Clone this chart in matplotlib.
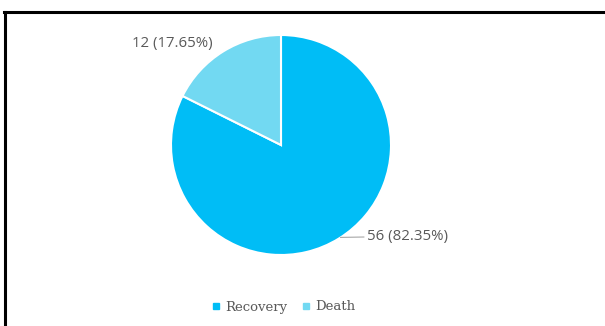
import matplotlib

matplotlib.use("Agg")
import matplotlib.pyplot as plt
from matplotlib.lines import Line2D

labels = ["Recovery", "Death"]
values = [56, 12]
colors = ["#00bdf6", "#72d9f2"]

W, H = 605, 326
fig = plt.figure(figsize=(W / 100, H / 100), dpi=100)
fig.patch.set_facecolor("white")

# pie centre (281, 145) px from top-left, radius 110 px
cx, cy, r = 281, 145, 110
ax = fig.add_axes([(cx - r) / W, (H - cy - r) / H, 2 * r / W, 2 * r / H])
ax.pie(values, colors=colors, startangle=90, counterclock=False,
       wedgeprops=dict(edgecolor="white", linewidth=1.5), radius=1)
ax.set_xlim(-1, 1)
ax.set_ylim(-1, 1)
ax.set_aspect("equal")
ax.axis("off")

total = sum(values)
txt = [f"{v} ({v / total * 100:.2f}%)" for v in values]
ax.annotate(txt[0], xy=(0.54, -0.84), xytext=(0.78, -0.83), ha="left", va="center",
            fontsize=10.8, color="#595959", family="Open Sans",
            arrowprops=dict(arrowstyle="-", color="#a6a6a6", lw=0.8,
                            shrinkA=0, shrinkB=0))
ax.text(-0.62, 0.92, txt[1], ha="right", va="center", fontsize=10.8,
        color="#595959", family="Open Sans")

handles = [Line2D([], [], marker="s", linestyle="", markersize=4.5,
                  color=c) for c in colors]
fig.legend(handles, labels, loc="center", bbox_to_anchor=(284 / W, 1 - 307 / H),
           ncol=2, frameon=False, handlelength=0.6, handletextpad=0.4,
           columnspacing=1.1, prop=dict(family="DejaVu Serif", size=9.5),
           labelcolor="#595959")

# partial black frame (top and left)
fig.add_artist(Line2D([4 / W, 1], [1 - 12 / H] * 2, color="black", lw=2.2,
                      transform=fig.transFigure))
fig.add_artist(Line2D([5 / W] * 2, [0, 1 - 12 / H], color="black", lw=2.2,
                      transform=fig.transFigure))

fig.savefig("out.png", dpi=100)
